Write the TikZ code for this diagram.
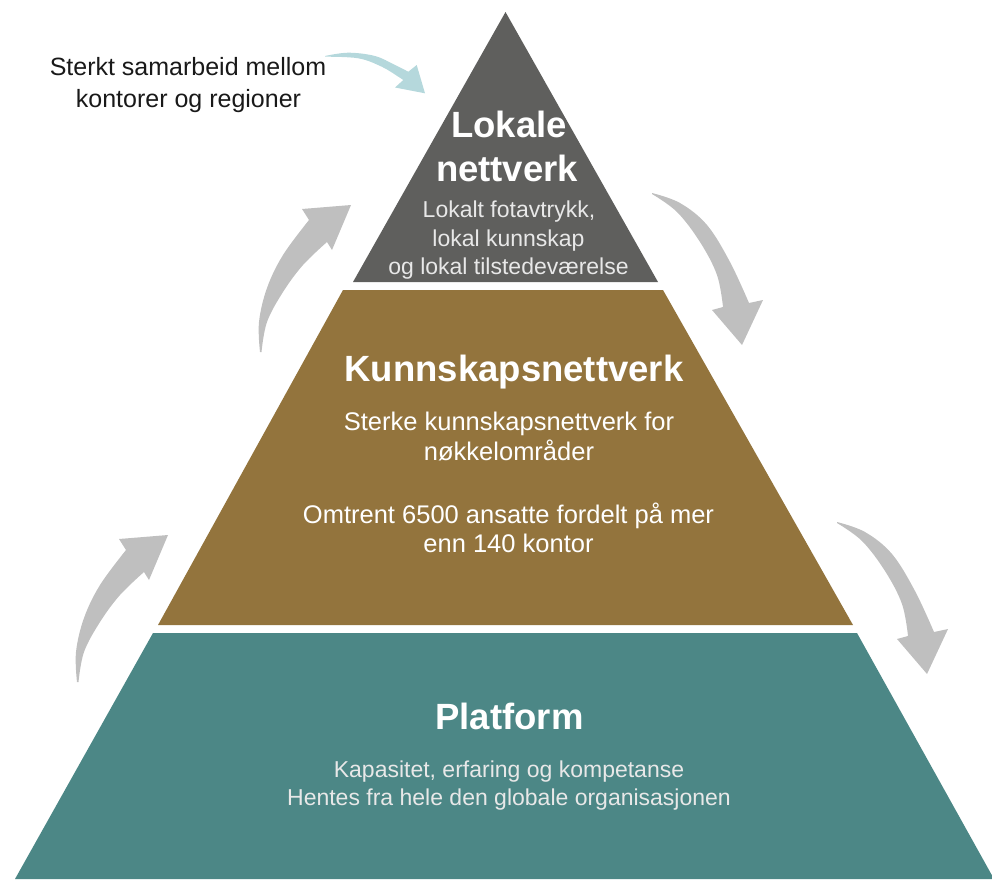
\documentclass[tikz,border=0pt]{standalone}
\usepackage{fontspec}
\setmainfont{Liberation Sans}
\definecolor{topgray}{RGB}{95,95,93}
\definecolor{midbrown}{RGB}{147,116,61}
\definecolor{botteal}{RGB}{76,135,134}
\definecolor{arrowgray}{RGB}{191,191,191}
\definecolor{arrowblue}{RGB}{181,216,220}
\definecolor{lightsub}{RGB}{232,232,232}
\definecolor{labeldark}{RGB}{25,25,25}
\begin{document}
\begin{tikzpicture}[x=1pt,y=-1pt,
  title/.style={font=\fontsize{36.5}{40}\selectfont\bfseries, text=white, inner sep=0pt, anchor=base},
  subtop/.style={font=\fontsize{23}{27}\selectfont, text=lightsub, inner sep=0pt, anchor=base},
  submid/.style={font=\fontsize{25.5}{30}\selectfont, text=white, inner sep=0pt, anchor=base},
  subbot/.style={font=\fontsize{23}{27}\selectfont, text=lightsub, inner sep=0pt, anchor=base},
  sidelabel/.style={font=\fontsize{25}{30}\selectfont, text=labeldark, inner sep=0pt, anchor=base}]
\useasboundingbox (0,0) rectangle (992,879);

% pyramid layers
\fill[topgray] (505.5,12) -- (658,282) -- (353,282) -- cycle;
\fill[midbrown] (343,290) -- (663,290) -- (853,625) -- (158,625) -- cycle;
\fill[botteal] (153,633) -- (857,633) -- (994,879) -- (15,879) -- cycle;

% blue arrow
\fill[arrowblue] plot[smooth, tension=0.6] coordinates {(325,56) (348.3,52.7) (375,56) (395,65) (408.3,71.7)}
  -- (416.7,65) -- (425,93.3) -- (395,87.5) -- (403.3,80)
  -- plot[smooth, tension=0.6] coordinates {(403.3,80) (398.3,76.7) (381.7,66.7) (358.3,58.3) (325,56.7)} -- cycle;

% gray arrows, left side (rising)
\newcommand{\leftarrowshape}{%
  \fill[arrowgray] plot[smooth, tension=0.6] coordinates {(260,352) (259,322) (267,288) (283,255) (309,220)}
    -- (302,209) -- (351,205) -- (332,250) -- (327,242)
    -- plot[smooth, tension=0.6] coordinates {(327,242) (303,265) (283,292) (267,322) (261.5,352)} -- cycle;}
\leftarrowshape
\begin{scope}[shift={(-183,330)}]
\leftarrowshape
\end{scope}

% gray arrows, right side (descending)
\newcommand{\rightarrowshape}{%
  \fill[arrowgray] plot[smooth, tension=0.6] coordinates {(652,193) (680,203) (707,225) (730,262) (749,303)}
    -- (763,300) -- (742,345) -- (712,310) -- (723,307)
    -- plot[smooth, tension=0.6] coordinates {(723,307) (717,275) (700,242) (677,212) (652,194)} -- cycle;}
\rightarrowshape
\begin{scope}[shift={(185,329)}]
\rightarrowshape
\end{scope}

% side label
\node[sidelabel] (lab1) at (188,75) {Sterkt samarbeid mellom};
\node[sidelabel] (lab2) at (188.5,107) {kontorer og regioner};

% top layer text
\node[title] (lok1) at (509,137) {Lokale};
\node[title] (lok2) at (507,181) {nettverk};
\node[subtop] (lok3) at (509,217.7) {Lokalt fotavtrykk,};
\node[subtop] (lok4) at (508.5,246) {lokal kunnskap};
\node[subtop] (lok5) at (508.5,274) {og lokal tilstedeværelse};

% middle layer text
\node[title] (kun1) at (514,381.7) {Kunnskapsnettverk};
\node[submid] (kun2) at (509,430) {Sterke kunnskapsnettverk for};
\node[submid] (kun3) at (509,460) {nøkkelområder};
\node[submid] (kun4) at (508.5,523) {Omtrent 6500 ansatte fordelt på mer};
\node[submid] (kun5) at (508.5,552.7) {enn 140 kontor};

% bottom layer text
\node[title] (pla1) at (509.5,729) {Platform};
\node[subbot] (pla2) at (509,777) {Kapasitet, erfaring og kompetanse};
\node[subbot] (pla3) at (509,805) {Hentes fra hele den globale organisasjonen};
\end{tikzpicture}
\end{document}
